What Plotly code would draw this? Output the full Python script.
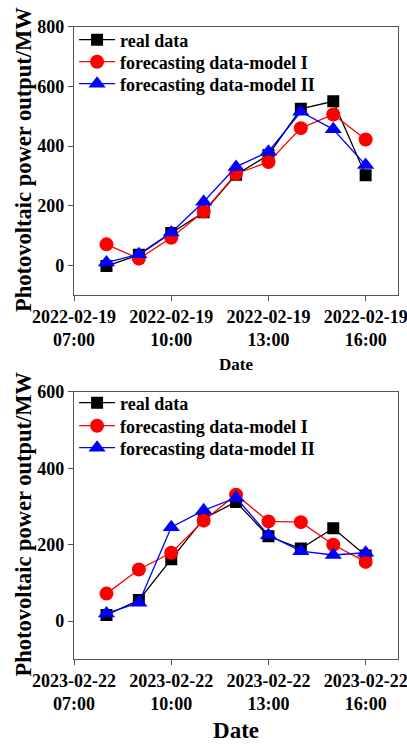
import plotly.graph_objects as go

# Hourly timestamps for each day
times_2022 = ["2022-02-19 08:00", "2022-02-19 09:00", "2022-02-19 10:00", "2022-02-19 11:00",
              "2022-02-19 12:00", "2022-02-19 13:00", "2022-02-19 14:00", "2022-02-19 15:00",
              "2022-02-19 16:00"]
times_2023 = ["2023-02-22 08:00", "2023-02-22 09:00", "2023-02-22 10:00", "2023-02-22 11:00",
              "2023-02-22 12:00", "2023-02-22 13:00", "2023-02-22 14:00", "2023-02-22 15:00",
              "2023-02-22 16:00"]

# Photovoltaic output (MW), 2022-02-19
real_2022 = [-3, 35, 108, 178, 304, 370, 525, 550, 302]
model1_2022 = [70, 22, 92, 180, 307, 346, 460, 506, 422]
model2_2022 = [9, 37, 110, 213, 330, 381, 515, 456, 336]

# Photovoltaic output (MW), 2023-02-22
real_2023 = [16, 55, 162, 268, 312, 222, 190, 243, 172]
model1_2023 = [72, 135, 179, 263, 331, 261, 259, 200, 155]
model2_2023 = [20, 48, 246, 290, 323, 225, 183, 173, 179]

# Axis ticks
tick_hours = ["07:00", "10:00", "13:00", "16:00"]
ytick_2022 = [0, 200, 400, 600, 800]
ytick_2023 = [0, 200, 400, 600]

series_names = ["real data", "forecasting data-model I", "forecasting data-model II"]
series_colors = ["#000000", "#ff0000", "#0000ff"]
series_symbols = ["square", "circle", "triangle-up"]
series_sizes = [12, 14, 15]

FONT = "Liberation Serif, Times New Roman, serif"
W, H = 407, 745
Y_TITLE = "Photovoltaic power output/MW"

fig = go.Figure()

# each panel: day, times, series, axes, legend row centres (px from top), y-domain
panels = [
    ("2022-02-19", times_2022, [real_2022, model1_2022, model2_2022], "x", "y",
     [40, 62, 84], [0.604, 0.964]),
    ("2023-02-22", times_2023, [real_2023, model1_2023, model2_2023], "x2", "y2",
     [403, 426, 448], [0.115, 0.474]),
]

legend_common = dict(
    x=0.182, xanchor="left", yanchor="middle",
    bgcolor="rgba(0,0,0,0)", borderwidth=0,
    font=dict(family=FONT, size=18, color="#000000", weight="bold"),
    itemwidth=36,
)

legend_layouts = {}
annotations = []
k = 1
for day, times, values, xa, ya, rows, dom in panels:
    for name, vals, col, sym, sz, row in zip(series_names, values, series_colors,
                                              series_symbols, series_sizes, rows):
        lg = "legend" if k == 1 else f"legend{k}"
        fig.add_trace(go.Scatter(
            x=times, y=vals, name=name, mode="lines+markers",
            line=dict(color=col, width=1.3),
            marker=dict(symbol=sym, size=sz, color=col),
            xaxis=xa, yaxis=ya, legend=lg,
        ))
        legend_layouts[lg] = dict(legend_common, y=1 - row / H)
        k += 1
    # rotated y-axis title placed close to the tick labels
    annotations.append(dict(
        text=Y_TITLE, textangle=-90, showarrow=False,
        xref="paper", yref="paper", x=24 / W, y=(dom[0] + dom[1]) / 2 + 1 / H,
        xanchor="center", yanchor="middle",
        font=dict(family=FONT, size=22.5, color="#000000", weight="bold"),
    ))

axis_common = dict(
    showgrid=False, zeroline=False, showline=True, mirror=True,
    linecolor="#555555", linewidth=1.2, automargin=False,
    ticks="outside", ticklen=5, tickwidth=1.2, tickcolor="#555555",
    tickfont=dict(family=FONT, size=18, color="#000000", weight="bold"),
)

def xaxis_for(day, domain_y_anchor, title_size, standoff):
    return dict(
        axis_common,
        type="date",
        range=[f"{day} 07:00", f"{day} 17:00"],
        tickvals=[f"{day} {h}" for h in tick_hours],
        ticktext=[f"{day}<br>{h}" for h in tick_hours],
        ticklabeloverflow="allow",
        domain=[0.182, 0.978],
        anchor=domain_y_anchor,
        title=dict(text="Date", standoff=standoff,
                   font=dict(family=FONT, size=title_size, color="#000000", weight="bold")),
    )

def yaxis_for(ticks, top, domain, anchor):
    return dict(
        axis_common,
        range=[-100, top],
        tickvals=ticks,
        domain=domain,
        anchor=anchor,
    )

fig.update_layout(
    width=W, height=H,
    margin=dict(l=0, r=0, t=0, b=0),
    paper_bgcolor="white", plot_bgcolor="white",
    showlegend=True,
    xaxis=xaxis_for("2022-02-19", "y", 17, 8),
    yaxis=yaxis_for(ytick_2022, 800, panels[0][6], "x"),
    xaxis2=xaxis_for("2023-02-22", "y2", 23, 8),
    yaxis2=yaxis_for(ytick_2023, 600, panels[1][6], "x2"),
    annotations=annotations,
    **legend_layouts,
)

fig.write_html("out.html")
